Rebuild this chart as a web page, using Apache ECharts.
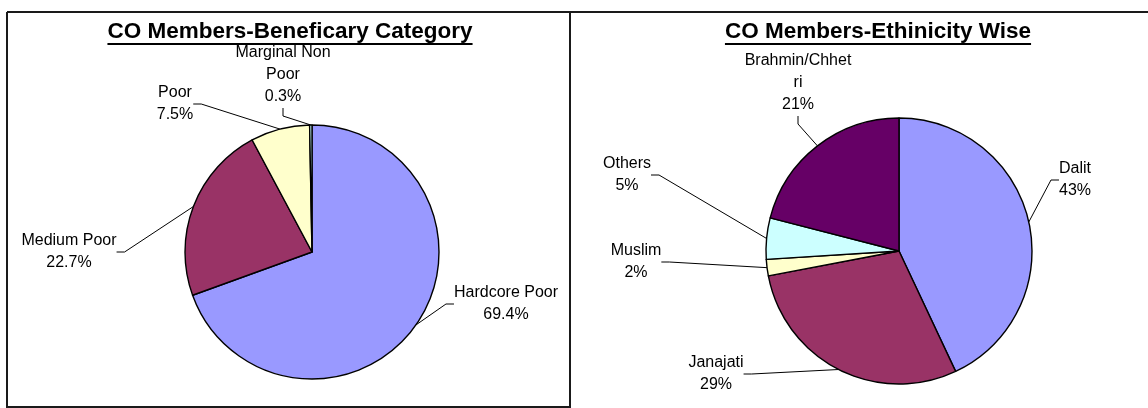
<!DOCTYPE html>
<html>
<head>
<meta charset="utf-8">
<script src="https://cdn.jsdelivr.net/npm/echarts@6/dist/echarts.min.js"></script>
<style>
  html, body { margin: 0; padding: 0; background: #fff; }
  #main { width: 1148px; height: 408px; }
</style>
</head>
<body>
<div id="main"></div>
<script>
// data
var beneficiaryCategories = ['Hardcore Poor', 'Medium Poor', 'Poor', 'Marginal Non Poor'];
var beneficiaryLabels = ['Hardcore Poor', 'Medium Poor', 'Poor', 'Marginal Non\nPoor'];
var beneficiaryValues = [69.4, 22.7, 7.5, 0.3];

var ethnicityCategories = ['Dalit', 'Janajati', 'Muslim', 'Others', 'Brahmin/Chhetri'];
var ethnicityLabels = ['Dalit', 'Janajati', 'Muslim', 'Others', 'Brahmin/Chhet\nri'];
var ethnicityValues = [43, 29, 2, 5, 21];

var titles = ['CO Members-Beneficary Category', 'CO Members-Ethinicity Wise'];

var sliceColors = ['#9999FF', '#993366', '#FFFFCC', '#CCFFFF', '#660066'];
var font = 'Liberation Sans, Arial, sans-serif';

// where the labels sit (centre of label box), like the excel original
var leftLabelPos = [[506, 304], [69, 252], [175, 104], [283, 75]];
var rightLabelPos = [[1075, 180], [716, 374], [636, 262], [627, 175], [798, 83]];

function toData(names, values) {
  var out = [];
  for (var i = 0; i < names.length; i++) {
    out.push({ name: names[i], value: values[i], itemStyle: { color: sliceColors[i] } });
  }
  return out;
}

function pieSeries(names, labels, values, center, radius, pos, digits) {
  return {
    type: 'pie',
    center: center,
    radius: radius,
    startAngle: 90,
    clockwise: true,
    animation: false,
    silent: true,
    data: toData(names, values),
    itemStyle: { borderColor: '#000', borderWidth: 1.4 },
    label: {
      show: true,
      position: 'outside',
      color: '#000',
      fontFamily: font,
      fontSize: 16,
      lineHeight: 22,
      align: 'center',
      formatter: function (p) {
        return labels[p.dataIndex] + '\n' + p.value.toFixed(digits) + '%';
      }
    },
    labelLine: { show: true, length: 10, length2: 8, lineStyle: { color: '#000', width: 1 } },
    labelLayout: function (p) {
      var q = pos[p.dataIndex];
      return { x: q[0], y: q[1], align: 'center', verticalAlign: 'middle' };
    }
  };
}

var chart = echarts.init(document.getElementById('main'));

var titleSize = 22.5;
var ctx = document.createElement('canvas').getContext('2d');
ctx.font = 'bold ' + titleSize + 'px ' + font;
var titleCenters = [290, 878];
var underline = [];
for (var i = 0; i < titles.length; i++) {
  var w = ctx.measureText(titles[i]).width;
  underline.push({
    type: 'line',
    shape: { x1: titleCenters[i] - w / 2, y1: 44, x2: titleCenters[i] + w / 2, y2: 44 },
    style: { stroke: '#000', lineWidth: 2 }
  });
}

var frameStyle = { stroke: '#1a1a1a', lineWidth: 2 };

var option = {
  backgroundColor: '#fff',
  title: titles.map(function (t, i) {
    return {
      text: t,
      left: titleCenters[i],
      top: 20,
      textAlign: 'center',
      padding: 0,
      textStyle: { fontFamily: font, fontSize: titleSize, fontWeight: 'bold', color: '#000' }
    };
  }),
  graphic: underline.concat([
    { type: 'line', shape: { x1: 7, y1: 12, x2: 1148, y2: 12 }, style: frameStyle },
    { type: 'line', shape: { x1: 7, y1: 12, x2: 7, y2: 408 }, style: frameStyle },
    { type: 'line', shape: { x1: 570, y1: 12, x2: 570, y2: 408 }, style: frameStyle },
    { type: 'line', shape: { x1: 7, y1: 407, x2: 570, y2: 407 }, style: frameStyle }
  ]),
  series: [
    pieSeries(beneficiaryCategories, beneficiaryLabels, beneficiaryValues, [312, 252], 127, leftLabelPos, 1),
    pieSeries(ethnicityCategories, ethnicityLabels, ethnicityValues, [899, 251], 133, rightLabelPos, 0)
  ]
};

chart.setOption(option);
</script>
</body>
</html>
